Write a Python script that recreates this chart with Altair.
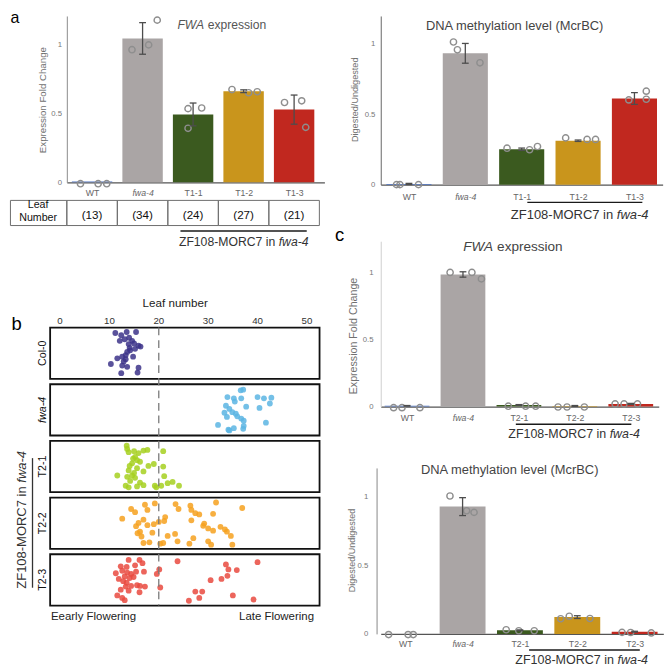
import altair as alt
import pandas as pd

SX, SY, SF = 0.975, 0.97, 0.972
FONT = "Liberation Sans"


def px(v):
    return round(v * SX, 2)


def py(v):
    return round(v * SY, 2)


def pf(v):
    return round(v * SF, 2)


# ---------------- data ----------------
cats_a = ["WT", "fwa-4", "T1-1", "T1-2", "T1-3"]
cats_c = ["WT", "fwa-4", "T2-1", "T2-2", "T2-3"]
bar_colors = ["#4a70c2", "#aaa5a5", "#3b5a1f", "#c9951c", "#c1281f"]

# a: FWA expression (T1)
a1_mean = [0.006, 1.047, 0.494, 0.663, 0.529]
a1_err = [0.0, 0.115, 0.083, 0.010, 0.106]
a1_pts = [[-0.01, -0.01, -0.01], [0.965, 1.0, 1.18], [0.536, 0.541, 0.393],
          [0.675, 0.652, 0.659], [0.581, 0.593, 0.400]]
a1_jit = [[-0.23, 0.12, 0.29], [-0.21, 0.12, 0.29], [-0.10, 0.17, -0.10],
          [-0.23, 0.10, 0.27], [-0.19, 0.15, 0.23]]
leaf_counts = ["(13)", "(34)", "(24)", "(27)", "(21)"]

# a: DNA methylation (T1)
a2_mean = [0.005, 0.93, 0.251, 0.311, 0.61]
a2_err = [0.004, 0.07, 0.008, 0.005, 0.042]
a2_pts = [[0.0, 0.0, 0.0], [1.01, 0.955, 0.863], [0.258, 0.247, 0.27],
          [0.331, 0.32, 0.32], [0.60, 0.662, 0.605]]
a2_jit = [[-0.22, -0.16, 0.17], [-0.21, -0.14, 0.26], [-0.26, 0.14, 0.28],
          [-0.22, 0.16, 0.31], [-0.10, 0.21, 0.21]]

# c: FWA expression (T2)
c1_mean = [0.006, 0.983, 0.012, 0.005, 0.02]
c1_err = [0.002, 0.02, 0.003, 0.003, 0.004]
c1_pts = [[-0.008, -0.008, -0.008], [0.998, 0.998, 0.95], [0.003, 0.003, 0.003],
          [-0.003, -0.003, -0.003], [0.02, 0.02, 0.02]]
c1_jit = [[-0.24, -0.09, 0.23], [-0.23, 0.16, 0.33], [-0.19, 0.12, 0.30],
          [-0.30, -0.14, 0.17], [-0.28, -0.12, 0.12]]

# c: DNA methylation (T2)
c2_mean = [0.0, 0.925, 0.026, 0.122, 0.016]
c2_err = [0.0, 0.065, 0.003, 0.01, 0.003]
c2_pts = [[-0.005, -0.005, -0.005], [1.002, 0.895, 0.883], [0.03, 0.023, 0.023],
          [0.11, 0.128, 0.112], [0.011, 0.01, 0.007]]
c2_jit = [[-0.29, 0.05, 0.14], [-0.22, 0.07, 0.20], [-0.24, -0.02, 0.25],
          [-0.29, -0.14, 0.22], [-0.22, -0.07, 0.29]]

# brackets (category units) under transgenic lines
br_a1 = [1.75, 4.25]
br_a2 = [2.10, 4.14]
br_c1 = [1.945, 4.01]
br_c2 = [2.16, 4.09]

# b: leaf numbers and vertical jitter (fraction of row box from top)
b_rows = ["Col-0", "fwa-4", "T2-1", "T2-2", "T2-3"]
b_colors = ["#3d3489", "#5cb5e3", "#a6d020", "#f6a11f", "#e94a40"]
leaf_ticks = [0, 10, 20, 30, 40, 50]
leaf_frame = [-2.0, 52.56]
threshold = [20]

col0_leaf = [11.2, 13.5, 15.4, 12.4, 12.1, 14.0, 14.6, 15.0, 15.9, 16.3, 13.9, 14.1, 14.2, 15.2,
             13.6, 13.3, 12.6, 11.6, 14.8, 13.3, 12.9, 10.3, 12.6, 13.6, 15.9, 15.7, 12.4, 13.1]
col0_jit = [0.105, 0.086, 0.086, 0.148, 0.259, 0.198, 0.259, 0.309, 0.352, 0.370, 0.321, 0.395,
            0.444, 0.414, 0.475, 0.537, 0.568, 0.599, 0.568, 0.617, 0.660, 0.710, 0.741, 0.765,
            0.784, 0.877, 0.889, 0.228]
fwa4_leaf = [36.6, 37.1, 33.9, 35.2, 36.7, 35.4, 40.0, 41.3, 42.8, 42.5, 33.6, 34.3, 37.7, 40.4,
             33.3, 34.9, 35.6, 35.9, 36.7, 33.8, 37.2, 32.0, 37.2, 37.1, 35.2, 34.1, 41.7, 34.3]
fwa4_jit = [0.119, 0.106, 0.25, 0.275, 0.275, 0.338, 0.25, 0.275, 0.262, 0.375, 0.419, 0.481,
            0.4375, 0.4625, 0.556, 0.544, 0.575, 0.625, 0.669, 0.6375, 0.7125, 0.794, 0.8125,
            0.869, 0.856, 0.8875, 0.75, 0.9]
t21_leaf = [13.5, 13.6, 13.9, 15.0, 15.9, 16.9, 17.7, 20.9, 15.2, 15.6, 14.6, 16.2, 17.9, 19.0,
            14.1, 13.9, 15.6, 16.9, 20.9, 11.6, 13.6, 14.6, 15.2, 14.2, 16.2, 21.1, 16.9, 13.3,
            13.9, 15.6, 19.2, 19.5, 20.5, 21.8, 22.8, 24.1, 15.0, 14.8]
t21_jit = [0.094, 0.156, 0.219, 0.2, 0.2375, 0.1875, 0.175, 0.2, 0.3125, 0.375, 0.4375, 0.406,
           0.4875, 0.45, 0.4875, 0.575, 0.531, 0.594, 0.5, 0.675, 0.7, 0.675, 0.719, 0.781,
           0.8125, 0.6875, 0.8625, 0.875, 0.906, 0.8875, 0.875, 0.906, 0.875, 0.825, 0.8, 0.875,
           0.625, 0.344]
t22_leaf = [14.4, 15.2, 17.2, 17.7, 19.2, 23.4, 24.0, 26.4, 26.6, 27.4, 28.2, 31.6, 31.0, 36.9,
            12.6, 15.9, 16.9, 15.4, 17.7, 19.0, 20.0, 21.3, 21.1, 26.6, 29.2, 29.0, 30.0, 31.0,
            32.5, 33.4, 33.8, 34.6, 16.2, 15.7, 18.7, 16.5, 21.8, 23.3, 27.0, 16.9, 18.1, 20.3,
            20.9, 23.8, 26.2, 30.0, 30.6, 34.9]
t22_jit = [0.222, 0.285, 0.139, 0.241, 0.114, 0.127, 0.222, 0.158, 0.241, 0.304, 0.329, 0.095,
           0.316, 0.203, 0.411, 0.494, 0.430, 0.557, 0.538, 0.519, 0.475, 0.380, 0.456, 0.443,
           0.506, 0.551, 0.601, 0.646, 0.570, 0.620, 0.665, 0.747, 0.665, 0.696, 0.684, 0.759,
           0.747, 0.709, 0.791, 0.886, 0.873, 0.899, 0.886, 0.854, 0.899, 0.854, 0.918, 0.918]
t23_leaf = [13.9, 16.1, 16.7, 15.2, 12.3, 13.5, 11.3, 12.6, 13.6, 14.4, 15.4, 17.0, 13.1, 14.1,
            14.9, 11.9, 20.1, 19.6, 12.8, 13.5, 13.3, 14.4, 15.6, 16.2, 17.2, 20.3, 12.3, 13.9,
            16.1, 11.6, 12.6, 13.1, 23.8, 33.6, 34.1, 35.8, 40.0, 33.9, 32.7, 30.5, 27.4, 28.8,
            28.2, 26.1, 35.0, 39.2]
t23_jit = [0.111, 0.111, 0.173, 0.216, 0.235, 0.247, 0.370, 0.321, 0.358, 0.383, 0.340, 0.340,
           0.432, 0.463, 0.444, 0.481, 0.296, 0.383, 0.525, 0.556, 0.630, 0.617, 0.605, 0.617,
           0.630, 0.648, 0.691, 0.710, 0.741, 0.802, 0.852, 0.895, 0.136, 0.198, 0.296, 0.309,
           0.154, 0.420, 0.481, 0.506, 0.728, 0.728, 0.852, 0.907, 0.802, 0.883]

leaf_rows = [col0_leaf, fwa4_leaf, t21_leaf, t22_leaf, t23_leaf]
jit_rows = [col0_jit, fwa4_jit, t21_jit, t22_jit, t23_jit]

# ---------------- helpers ----------------
EM = {"ZF108-MORC7 in": 7.890, "fwa-4": 2.445, "FWA": 2.222, "expression": 4.835}
SPACE = 0.278


def one(v):
    return pd.DataFrame({"t": [v]})


def txt_raw(t, x, y, fsize, color="#444", style="normal", align="left",
            baseline="alphabetic", angle=None):
    kw = dict(align=align, baseline=baseline, fontSize=fsize, font=FONT,
              fontStyle=style, color=color)
    if angle is not None:
        kw["angle"] = angle
    return alt.Chart(one(t)).mark_text(**kw).encode(
        text="t:N", x=alt.value(round(x, 2)), y=alt.value(round(y, 2)))


def txt(t, x, y, size, color="#444", style="normal", align="left",
        baseline="alphabetic", angle=None):
    return txt_raw(t, px(x), py(y), pf(size), color, style, align, baseline, angle)


def mixed_h(parts, cx, y, size, color):
    fs = pf(size)
    total = (sum(EM[t] for t, _ in parts) + SPACE * (len(parts) - 1)) * fs
    x = px(cx) - total / 2
    out = []
    for t, st in parts:
        out.append(txt_raw(t, x, py(y), fs, color, st))
        x += (EM[t] + SPACE) * fs
    return out


def mixed_v(parts, x, ybottom, size, color):
    fs = pf(size)
    y = py(ybottom)
    out = []
    for t, st in parts:
        out.append(txt_raw(t, px(x), y, fs, color, st, angle=270))
        y -= (EM[t] + SPACE) * fs
    return out


def anchor(x1, y1, x2, y2):
    return alt.Chart(one(0)).mark_rule(color="white", strokeOpacity=0, strokeWidth=0.5).encode(
        x=alt.value(px(x1)), y=alt.value(py(y1)), x2=alt.value(px(x2)), y2=alt.value(py(y2)))


ZF = [("ZF108-MORC7 in", "normal"), ("fwa-4", "italic")]


def bracket(X, br, y, cx, ty, size):
    line = alt.Chart(pd.DataFrame({"a": [br[0]], "b": [br[1]]})).mark_rule(
        color="#1a1a1a", strokeWidth=1.4).encode(
        x=X("a:Q"), x2="b", y=alt.value(py(y)))
    return [line] + mixed_h(ZF, cx, ty, size, "#333")


def bar_panel(cats, means, errs, pts, jits, W, H, xdom, ydom, xpad, ypad, ycol, extras_fn,
              yoffset=0):
    n = len(cats)
    xs = alt.Scale(domain=xdom, nice=False, zero=False)
    ys = alt.Scale(domain=ydom, nice=False, zero=False)
    label_expr = "[" + ",".join("'%s'" % c for c in cats) + "][datum.value]"
    xaxis = alt.Axis(values=list(range(n)), labelExpr=label_expr, title=None, grid=False,
                     ticks=False, tickSize=0, domainColor="#555555", domainWidth=1.2,
                     labelFont=FONT, labelFontSize=pf(9), labelColor="#666666",
                     labelPadding=py(xpad), labelFlush=False, labelOverlap=False,
                     labelFontStyle={"condition": {"test": "datum.value == 1", "value": "italic"},
                                     "value": "normal"})
    yaxis = alt.Axis(values=[0, 0.5, 1], format="~g", title=None, grid=False, ticks=False,
                     tickSize=0, domainColor=ycol, domainWidth=1, labelFont=FONT,
                     labelFontSize=pf(8), labelColor="#777777", labelPadding=px(ypad),
                     labelFlush=False, offset=px(yoffset))

    def X(f):
        return alt.X(f, scale=xs, axis=xaxis)

    def Y(f):
        return alt.Y(f, scale=ys, axis=yaxis)

    bars_df = pd.DataFrame({"i": list(range(n)), "m": means, "e": errs, "col": bar_colors})
    bars = alt.Chart(bars_df).transform_calculate(
        xa="datum.i - 0.4", xb="datum.i + 0.4", z="0").mark_rect().encode(
        x=X("xa:Q"), x2="xb", y=Y("m:Q"), y2="z",
        color=alt.Color("col:N", scale=None))
    recs = []
    for i in range(n):
        for v, j in zip(pts[i], jits[i]):
            recs.append({"i": i, "v": v, "j": j})
    points = alt.Chart(pd.DataFrame(recs)).transform_calculate(xp="datum.i + datum.j").mark_point(
        shape="circle", filled=False, color="#8e8e8e", strokeWidth=1.4,
        size=round(42 * SF * SF, 1), opacity=1).encode(x=X("xp:Q"), y=Y("v:Q"))
    erecs = [{"i": i, "lo": means[i] - errs[i], "hi": means[i] + errs[i]}
             for i in range(n) if errs[i] > 0]
    edf = pd.DataFrame(erecs)
    erule = alt.Chart(edf).mark_rule(color="#4d4d4d", strokeWidth=1.3).encode(
        x=X("i:Q"), y=Y("lo:Q"), y2="hi")
    cap_hi = alt.Chart(edf).mark_tick(orient="horizontal", size=px(7), thickness=1.3,
                                      color="#4d4d4d", opacity=1).encode(x=X("i:Q"), y=Y("hi:Q"))
    cap_lo = alt.Chart(edf).mark_tick(orient="horizontal", size=px(7), thickness=1.3,
                                      color="#4d4d4d", opacity=1).encode(x=X("i:Q"), y=Y("lo:Q"))
    layers = [bars, points, erule, cap_hi, cap_lo] + extras_fn(X, Y)
    return alt.layer(*layers).properties(width=px(W), height=py(H))


# ---------------- panel a (left) ----------------
def a1_extras(X, Y):
    out = mixed_h([("FWA", "italic"), ("expression", "normal")], 159.5, 13, 12.5, "#555555")
    out.append(txt("Expression Fold Change", -25, 87, 10, "#707070", align="center",
                   baseline="middle", angle=270))
    tdf = pd.DataFrame({"i": list(range(5)), "n": leaf_counts})
    out.append(alt.Chart(tdf).transform_calculate(xa="datum.i - 0.5", xb="datum.i + 0.5").mark_rect(
        fillOpacity=0, stroke="#6e6e6e", strokeWidth=1).encode(
        x=X("xa:Q"), x2="xb", y=alt.value(py(190.7)), y2=alt.value(py(216.7))))
    out.append(alt.Chart(one(0)).mark_rect(fillOpacity=0, stroke="#6e6e6e", strokeWidth=1).encode(
        x=alt.value(px(-58)), x2=alt.value(0), y=alt.value(py(190.7)), y2=alt.value(py(216.7))))
    out.append(alt.Chart(tdf).mark_text(font=FONT, fontSize=pf(12), color="#111111",
                                        align="center", baseline="alphabetic").encode(
        x=X("i:Q"), y=alt.value(py(210.3)), text="n:N"))
    out.append(txt("Leaf", -29.5, 199, 11, "#111111", align="center"))
    out.append(txt("Number", -29.5, 211.5, 11, "#111111", align="center"))
    out += bracket(X, br_a1, 222.3, 182, 237.5, 12.6)
    out.append(txt("a", -58, 7.5, 16.5, "#000000"))
    out.append(anchor(-59, -6.5, 267, 241))
    return out


a_left = bar_panel(cats_a, a1_mean, a1_err, a1_pts, a1_jit, 265, 172, [-0.5, 4.6], [0, 1.2104],
                   6.6, 5.5, "#8c8c8c", a1_extras)


# ---------------- panel a (right) ----------------
def a2_extras(X, Y):
    out = [txt("DNA methylation level (McrBC)", 137.7, 14.7, 13.3, "#444444", align="center"),
           txt("Digested/Undigested", -26.3, 86.7, 9.4, "#707070", align="center",
               baseline="middle", angle=270)]
    out += bracket(X, br_a2, 192.7, 204.7, 209.7, 13.4)
    out.append(anchor(-49.3, -4.8, -49.3, 212.7))
    return out


a_right = bar_panel(cats_a, a2_mean, a2_err, a2_pts, a2_jit, 290, 174.4, [-0.5, 4.5], [0, 1.1945],
                    8.3, 6, "#666666", a2_extras)


# ---------------- panel c ----------------
def c1_extras(X, Y):
    out = mixed_h([("FWA", "italic"), ("expression", "normal")], 136, 10, 14, "#444444")
    out.append(txt("c", -47, 0, 19, "#000000"))
    out.append(txt("Expression Fold Change", -27, 98, 11, "#707070", align="center",
                   baseline="middle", angle=270))
    out += bracket(X, br_c1, 189.3, 199, 203, 12.8)
    out.append(anchor(-49.3, -17, -49.3, 206))
    return out


c_top = bar_panel(cats_c, c1_mean, c1_err, c1_pts, c1_jit, 286, 171, [-0.47, 4.5], [0, 1.2302],
                  7.3, 8, "#cfcfcf", c1_extras)


def c2_extras(X, Y):
    out = [txt("DNA methylation level (McrBC)", 132.7, 6, 13.3, "#444444", align="center"),
           txt("Digested/Undigested", -29.3, 85.3, 9.3, "#707070", align="center",
               baseline="middle", angle=270)]
    out += bracket(X, br_c2, 188.3, 206.7, 202.3, 12.9)
    out.append(anchor(-49.3, -5.7, -49.3, -5))
    return out


c_bottom = bar_panel(cats_c, c2_mean, c2_err, c2_pts, c2_jit, 290.7, 171.6, [-0.427, 4.5],
                     [0, 1.206], 6, 9, "#888888", c2_extras, yoffset=4.3)

# ---------------- panel b ----------------
# plot area starts where panel a's y axis is (aligned by the concat); the frame extends left
WB, HB = 260, 287.4
ROWSTEP = 58.6 / 53.0
YMAX = 4 * ROWSTEP + 1

recs = []
for r, (ls, js) in enumerate(zip(leaf_rows, jit_rows)):
    for v, j in zip(ls, js):
        recs.append({"r": r, "leaf": v, "j": j, "col": b_colors[r]})
leaf_df = pd.DataFrame(recs)
rows_df = pd.DataFrame({"r": list(range(5)), "lab": b_rows,
                        "f0": [leaf_frame[0]] * 5, "f1": [leaf_frame[1]] * 5})
xsb = alt.Scale(domain=[1.378, 52.56], nice=False, zero=False)
ysb = alt.Scale(domain=[0, YMAX], nice=False, zero=False, reverse=True)

b_pts = alt.Chart(leaf_df).transform_calculate(yy="datum.r * %f + datum.j" % ROWSTEP).mark_circle(
    size=round(36 * SF * SF, 1), opacity=0.85).encode(
    x=alt.X("leaf:Q", scale=xsb, axis=None), y=alt.Y("yy:Q", scale=ysb, axis=None),
    color=alt.Color("col:N", scale=None))
b_box = alt.Chart(rows_df).transform_calculate(
    y0="datum.r * %f" % ROWSTEP, y1="datum.r * %f + 1" % ROWSTEP).mark_rect(
    fillOpacity=0, stroke="#111111", strokeWidth=1.8).encode(
    x=alt.X("f0:Q", scale=xsb, axis=None), x2="f1",
    y=alt.Y("y0:Q", scale=ysb, axis=None), y2="y1")
b_ticks = alt.Chart(pd.DataFrame({"v": leaf_ticks})).mark_text(
    font=FONT, fontSize=pf(10), color="#333333", align="center", baseline="alphabetic").encode(
    x=alt.X("v:Q", scale=xsb, axis=None), y=alt.value(py(-3.3)), text="v:Q")
b_dash = alt.Chart(pd.DataFrame({"v": threshold})).mark_rule(
    color="#7a7a7a", strokeWidth=1.3, strokeDash=[py(8), py(5)]).encode(
    x=alt.X("v:Q", scale=xsb, axis=None), y=alt.value(0), y2=alt.value(py(HB)))
b_lab = alt.Chart(rows_df).transform_filter("datum.lab != 'fwa-4'").transform_calculate(
    yc="datum.r * %f + 0.5" % ROWSTEP).mark_text(
    angle=270, align="center", baseline="alphabetic", font=FONT, fontSize=pf(11),
    color="#111111").encode(text="lab:N", x=alt.value(px(-21.5)),
                            y=alt.Y("yc:Q", scale=ysb, axis=None))
b_lab_it = alt.Chart(rows_df).transform_filter("datum.lab == 'fwa-4'").transform_calculate(
    yc="datum.r * %f + 0.5" % ROWSTEP).mark_text(
    angle=270, align="center", baseline="alphabetic", font=FONT, fontSize=pf(11),
    fontStyle="italic", color="#111111").encode(text="lab:N", x=alt.value(px(-21.5)),
                                                y=alt.Y("yc:Q", scale=ysb, axis=None))
b_extras = [
    txt("b", -57, 3, 19, "#000000"),
    txt("Leaf number", 111.5, -21, 12, "#222222", align="center"),
    txt("Eearly Flowering", -16.3, 302, 11.8, "#222222"),
    txt("Late Flowering", 254.3, 302, 11.8, "#222222", align="right"),
    alt.Chart(one(0)).mark_rule(color="#333333", strokeWidth=1.3).encode(
        x=alt.value(px(-35.3)), y=alt.value(py(135)), y2=alt.value(py(269))),
    anchor(-59, -31, -59, -30),
] + mixed_v(ZF, -41.5, 270, 13.4, "#333333")

b_chart = alt.layer(b_box, b_pts, b_dash, b_ticks, b_lab, b_lab_it, *b_extras).properties(
    width=px(WB), height=py(HB))

# ---------------- layout ----------------
left_col = alt.vconcat(a_left, b_chart, spacing=py(48))
right_bot = alt.vconcat(c_top, c_bottom, spacing=py(20))
right_col = alt.vconcat(a_right, right_bot, spacing=py(2))
chart = alt.hconcat(left_col, right_col, spacing=px(5)).properties(padding=0)
chart = chart.configure(font=FONT).configure_view(stroke="transparent")

chart.save("out.html", embed_options={"renderer": "svg", "actions": False})
